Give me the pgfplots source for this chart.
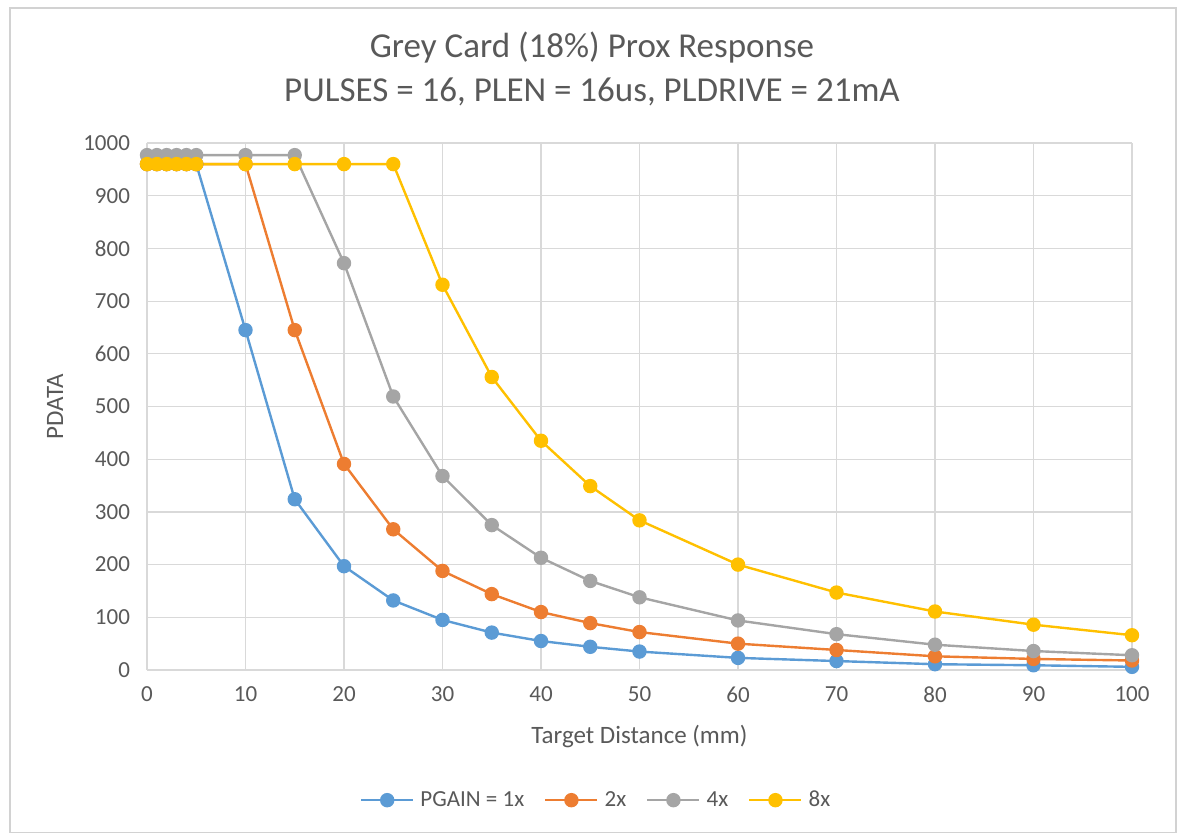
\documentclass[border=0pt]{standalone}
\usepackage{pgfplots}
\pgfplotsset{compat=1.18}
\usepackage{fontspec}
\setmainfont{Carlito}
\definecolor{cblue}{HTML}{5B9BD5}
\definecolor{corange}{HTML}{ED7D31}
\definecolor{cgray}{HTML}{A5A5A5}
\definecolor{cyellow}{HTML}{FFC000}
\definecolor{txt}{HTML}{595959}
\definecolor{gridc}{HTML}{D9D9D9}
\begin{document}
\begin{tikzpicture}
\path[use as bounding box] (-73.5pt,-81pt) rectangle (518.5pt,335pt);
\draw[gray!35, line width=0.6pt] (-68.5pt,-81.5pt) rectangle (514.5pt,331pt);
\begin{axis}[
  at={(0,0)}, anchor=south west,
  scale only axis, width=492.5pt, height=263.5pt,
  xmin=0, xmax=100, ymin=0, ymax=1000,
  xtick={0,10,...,100}, ytick={0,100,...,1000},
  grid=major, major grid style={gridc, line width=0.6pt},
  axis line style={draw=none},
  tick style={draw=none},
  clip=false,
  /pgf/number format/assume math mode=true,
  /pgf/number format/1000 sep={},
  ticklabel style={font=\fontsize{11.5}{13}\selectfont, text=txt},
  xticklabel style={yshift=-5pt},
  yticklabel style={xshift=-5pt},
  xlabel={Target Distance (mm)},
  ylabel={PDATA},
  label style={font=\fontsize{12.5}{14}\selectfont, text=txt},
  xlabel style={at={(rel axis cs:0.5,-0.127)}, anchor=center},
  ylabel style={at={(rel axis cs:-0.0934,0.5)}, anchor=center, rotate=0},
  legend columns=4,
  legend style={at={(rel axis cs:0.457,-0.247)}, anchor=center, draw=none, fill=none,
    font=\fontsize{11.5}{13}\selectfont, text=txt,
    /tikz/every even column/.append style={column sep=8pt},
    /tikz/every odd column/.append style={column sep=1pt}},
  legend image code/.code={\draw[mark repeat=2, mark phase=2] plot coordinates {(0pt,0pt)(13pt,0pt)(26pt,0pt)};},
  legend cell align=left,
  every axis plot/.append style={line width=1.2pt, mark=*, mark size=3pt, mark options={solid}},
]
\addplot[color=cblue, mark options={fill=cblue, draw=cblue}] coordinates {
(0,960)(1,960)(2,960)(3,960)(4,960)(5,960)(10,645)(15,324)(20,197)(25,132)(30,95)(35,71)(40,55)(45,44)(50,35)(60,23)(70,17)(80,11)(90,9)(100,6)};
\addlegendentry{PGAIN = 1x}
\addplot[color=corange, mark options={fill=corange, draw=corange}] coordinates {
(0,960)(1,960)(2,960)(3,960)(4,960)(5,960)(10,960)(15,645)(20,391)(25,267)(30,188)(35,144)(40,110)(45,89)(50,72)(60,50)(70,38)(80,26)(90,21)(100,18)};
\addlegendentry{2x}
\addplot[color=cgray, mark options={fill=cgray, draw=cgray}] coordinates {
(0,977)(1,977)(2,977)(3,977)(4,977)(5,977)(10,977)(15,977)(20,772)(25,519)(30,368)(35,275)(40,213)(45,169)(50,138)(60,94)(70,68)(80,48)(90,36)(100,28)};
\addlegendentry{4x}
\addplot[color=cyellow, mark options={fill=cyellow, draw=cyellow}] coordinates {
(0,960)(1,960)(2,960)(3,960)(4,960)(5,960)(10,960)(15,960)(20,960)(25,960)(30,731)(35,556)(40,435)(45,349)(50,284)(60,200)(70,147)(80,111)(90,86)(100,66)};
\addlegendentry{8x}
\end{axis}
\node[text=txt, font=\fontsize{17.5}{20}\selectfont, align=center] at (222.5pt,311pt) {Grey Card (18\%) Prox Response};
\node[text=txt, font=\fontsize{17.5}{20}\selectfont, align=center] at (222.5pt,289pt) {PULSES = 16, PLEN = 16us, PLDRIVE = 21mA};
\end{tikzpicture}
\end{document}
